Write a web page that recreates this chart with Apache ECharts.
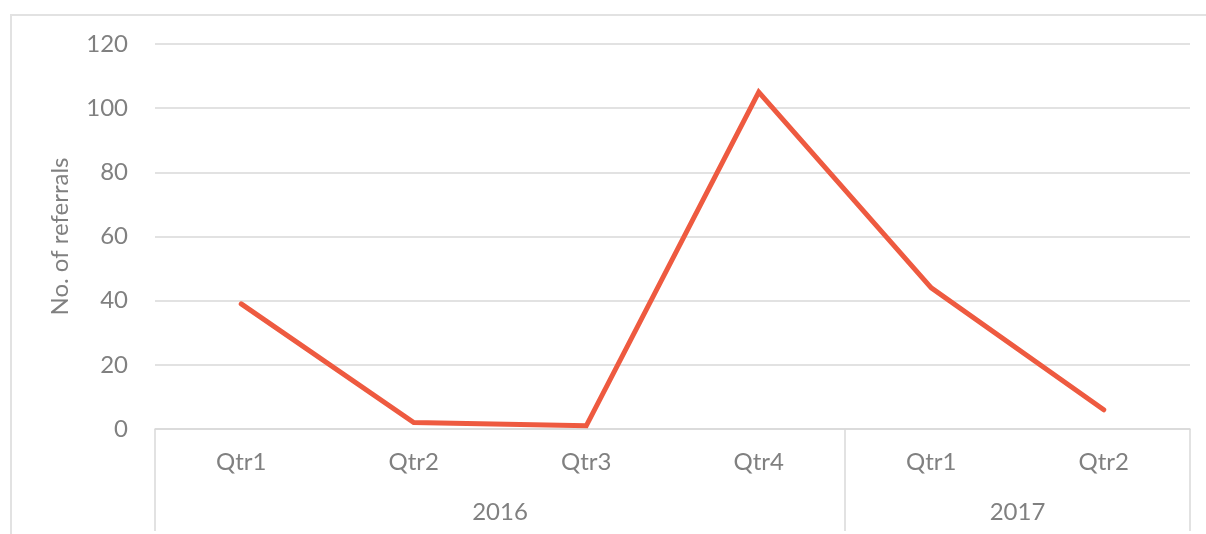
<!DOCTYPE html>
<html>
<head>
<meta charset="utf-8">
<script src="https://cdn.jsdelivr.net/npm/echarts@6/dist/echarts.min.js"></script>
<style>
  html, body { margin: 0; padding: 0; background: #fff; }
  #chart { width: 1206px; height: 534px; }
</style>
</head>
<body>
<div id="chart"></div>
<script>
// data
const quarters = ['Qtr1', 'Qtr2', 'Qtr3', 'Qtr4', 'Qtr1', 'Qtr2']
const referrals = [39, 2, 1, 105, 44, 6]
const years = ['2016', '2017']
const yearSpans = [4, 2]
const yTicks = [0, 20, 40, 60, 80, 100, 120]

// year boundaries and centers in category units
const yearBounds = [0]
const yearCenters = []
yearSpans.forEach((n, i) => {
    const start = yearBounds[i]
    yearBounds.push(start + n)
    yearCenters.push(start + n / 2)
})

const labelColor = '#808080'
const lineGray = '#d9d9d9'
const font = 'Lato, "Open Sans", sans-serif'
const fs = 24

const chart = echarts.init(document.getElementById('chart'))
chart.setOption({
    animation: false,
    graphic: [{
        type: 'rect',
        shape: { x: 11, y: 15, width: 1260, height: 600 },
        style: { fill: 'none', stroke: '#e2e2e2', lineWidth: 2 },
        silent: true
    }],
    grid: { left: 155, right: 16, top: 44, bottom: 105 },
    xAxis: [{
        type: 'category',
        data: quarters,
        boundaryGap: true,
        axisLine: { show: true, lineStyle: { color: lineGray, width: 1.5 } },
        axisTick: { show: false },
        axisLabel: {
            interval: 0, margin: 21, color: labelColor,
            fontSize: fs, fontFamily: font
        }
    }, {
        type: 'value',
        min: 0,
        max: quarters.length,
        position: 'bottom',
        axisLine: { show: false },
        splitLine: { show: false },
        axisTick: {
            show: true, inside: false, length: 102,
            customValues: yearBounds,
            lineStyle: { color: lineGray, width: 1.5 }
        },
        axisLabel: {
            margin: 71, color: labelColor, fontSize: fs, fontFamily: font,
            customValues: yearCenters,
            formatter: v => years[yearCenters.indexOf(v)] || ''
        }
    }],
    yAxis: {
        type: 'value',
        min: 0,
        max: yTicks[yTicks.length - 1],
        interval: yTicks[1] - yTicks[0],
        name: 'No. of referrals',
        nameLocation: 'middle',
        nameGap: 83,
        nameTextStyle: { color: labelColor, fontSize: fs, fontFamily: font },
        axisLine: { show: false },
        axisTick: { show: false },
        axisLabel: { margin: 27, color: labelColor, fontSize: fs, fontFamily: font },
        splitLine: { lineStyle: { color: lineGray, width: 1.5 } }
    },
    series: [{
        type: 'line',
        xAxisIndex: 0,
        data: referrals,
        symbol: 'none',
        lineStyle: { color: '#ee5a40', width: 5, cap: 'round', join: 'miter' }
    }]
})
</script>
</body>
</html>
